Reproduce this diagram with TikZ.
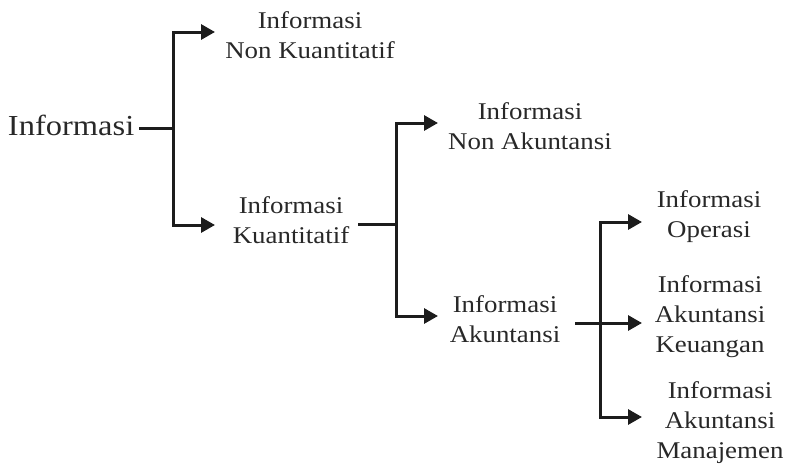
\documentclass[tikz,border=0pt]{standalone}
\usepackage{fontspec}
\setmainfont{Liberation Serif}[FakeStretch=1.12]
\usetikzlibrary{arrows.meta}
\definecolor{ink}{RGB}{28,28,28}
\definecolor{txt}{RGB}{40,40,40}
\tikzset{
  lbl/.style={inner sep=0pt, outer sep=0pt, align=center, text=txt,
    font=\fontsize{24}{30}\selectfont, anchor=north},
  big/.style={inner sep=0pt, outer sep=0pt, text=txt,
    font=\fontsize{29}{34}\selectfont},
  conn/.style={draw=ink, line width=3pt},
  arr/.style={conn, -{Triangle[length=14pt,width=15pt]}}
}
\begin{document}
\begin{tikzpicture}[x=1pt,y=-1pt]
\useasboundingbox (0,0) rectangle (788,469);
% nodes
\node[big, anchor=base west] (root) at (8,135) {Informasi};
\node[lbl] (nk) at (310,11.6) {Informasi\\Non Kuantitatif};
\node[lbl] (k)  at (291,196.6) {Informasi\\Kuantitatif};
\node[lbl] (na) at (530,102.6) {Informasi\\Non Akuntansi};
\node[lbl] (a)  at (505,295.6) {Informasi\\Akuntansi};
\node[lbl] (op) at (709,190.6) {Informasi\\Operasi};
\node[lbl] (ke) at (710,275.6) {Informasi\\Akuntansi\\Keuangan};
\node[lbl] (mj) at (720,381.6) {Informasi\\Akuntansi\\Manajemen};
% junctions and arrow tips
\coordinate (s1) at (139,128);
\coordinate (j1) at (173,128);
\coordinate (t1a) at (215,32);
\coordinate (t1b) at (215,225);
\coordinate (s2) at (358,224);
\coordinate (j2) at (396,224);
\coordinate (t2a) at (438,123);
\coordinate (t2b) at (438,316);
\coordinate (s3) at (575,323);
\coordinate (j3) at (600,323);
\coordinate (t3a) at (642,222);
\coordinate (t3b) at (642,323);
\coordinate (t3c) at (642,417);
% connectors
\draw[conn] (s1) -- (j1);
\draw[arr] (j1) |- (t1a);
\draw[arr] (j1) |- (t1b);
\draw[conn] (s2) -- (j2);
\draw[arr] (j2) |- (t2a);
\draw[arr] (j2) |- (t2b);
\draw[arr] (s3) -- (t3b);
\draw[arr] (j3) |- (t3a);
\draw[arr] (j3) |- (t3c);
\end{tikzpicture}
\end{document}
